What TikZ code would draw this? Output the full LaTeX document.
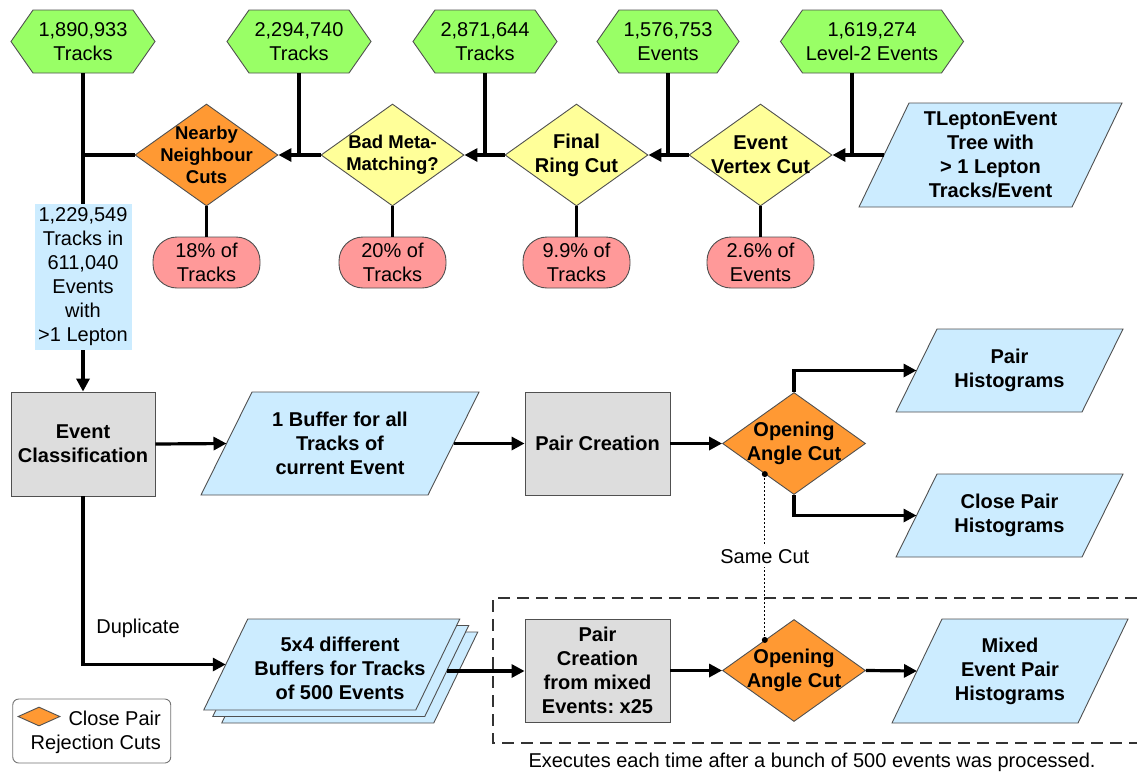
\documentclass[tikz,border=0pt]{standalone}
\usepackage{fontspec}
\setmainfont{Liberation Sans}
\usetikzlibrary{arrows.meta,shapes.geometric,calc}
\definecolor{hexgreen}{HTML}{99FF66}
\definecolor{dyellow}{HTML}{FFFF99}
\definecolor{dorange}{HTML}{FF9933}
\definecolor{pillred}{HTML}{FF9999}
\definecolor{lblue}{HTML}{CCECFF}
\definecolor{boxgray}{HTML}{DDDDDD}
\definecolor{edgecol}{HTML}{505050}
\frenchspacing

% hexagon: name, cx, cy, half width, text
\newcommand\hexa[5]{%
  \filldraw[hexst] (#2-#4,#3) -- (#2-#4+22,#3-31.5) -- (#2+#4-22,#3-31.5) -- (#2+#4,#3)
     -- (#2+#4-22,#3+31.5) -- (#2-#4+22,#3+31.5) -- cycle;
  \node[rtxt, minimum width=2*#4, minimum height=63] (#1) at (#2,#3) {#5};
}
% parallelogram: name, cx, cy, half edge, half height, half slant, text
\newcommand\para[7]{%
  \filldraw[parast] (#2-#4-#6,#3+#5) -- (#2-#4+#6,#3-#5) -- (#2+#4+#6,#3-#5) -- (#2+#4-#6,#3+#5) -- cycle;
  \coordinate (#1w) at (#2-#4,#3);
  \coordinate (#1e) at (#2+#4,#3);
  \node[btxt] (#1) at (#2,#3) {#7};
}

\begin{document}
\frenchspacing
\begin{tikzpicture}[x=1pt,y=-1pt,
  ln/.style={line width=3.2pt, black},
  arr/.style={ln, -{Triangle[length=13pt,width=13pt]}},
  hexst/.style={fill=hexgreen, draw=edgecol, line width=0.9pt},
  parast/.style={fill=lblue, draw=edgecol, line width=0.9pt},
  rtxt/.style={font=\fontsize{20}{24}\selectfont, align=center, inner sep=0pt},
  btxt/.style={font=\bfseries\fontsize{20}{24}\selectfont, align=center, inner sep=0pt},
  stxt/.style={font=\bfseries\fontsize{18.5}{22}\selectfont, align=center, inner sep=0pt},
  diam/.style={diamond, draw=edgecol, line width=0.9pt, minimum width=143pt, minimum height=102pt, inner sep=0pt},
  procbox/.style={rectangle, draw=edgecol, line width=0.9pt, fill=boxgray, minimum width=145pt, minimum height=103pt, inner sep=0pt, align=center, font=\bfseries\fontsize{20}{24}\selectfont},
  pill/.style={rectangle, rounded corners=24pt, draw=edgecol, line width=0.9pt, fill=pillred, minimum width=107pt, minimum height=51pt, inner sep=0pt, align=center, font=\fontsize{20}{24}\selectfont},
  dashbox/.style={line width=1.3pt, black!80, dash pattern=on 12pt off 7pt},
  dotline/.style={line width=1.2pt, black, dash pattern=on 2pt off 2pt},
]
\useasboundingbox (0,0) rectangle (1137,774);

% dashed region
\draw[dashbox] (1137,598) -- (493,598) -- (493,743) -- (1137,743);

% top hexagons
\hexa{h1}{83}{41.5}{72}{1,890,933\\Tracks}
\hexa{h2}{299}{41.5}{72}{2,294,740\\Tracks}
\hexa{h3}{485}{41.5}{72}{2,871,644\\Tracks}
\hexa{h4}{668}{41.5}{71}{1,576,753\\Events}
\hexa{h5}{872}{41.5}{91.5}{1,619,274\\Level-2 Events}

% cut diamonds
\node[diam, fill=dorange] (d1) at (206.5,155) {};
\node[stxt] (d1t) at (d1) {Nearby\\Neighbour\\Cuts};
\node[diam, fill=dyellow] (d2) at (392.5,155) {};
\node[stxt] (d2t) at (d2) {Bad Meta-\\Matching?};
\node[diam, fill=dyellow] (d3) at (576.5,155) {};
\node[btxt] (d3t) at (d3) {Final\\Ring Cut};
\node[diam, fill=dyellow] (d4) at (760.5,155) {};
\node[btxt] (d4t) at (d4) {Event\\Vertex Cut};

% rejection pills
\node[pill] (p1) at (206.5,262.5) {18\% of\\Tracks};
\node[pill] (p2) at (392.5,262.5) {20\% of\\Tracks};
\node[pill] (p3) at (576.5,262.5) {9.9\% of\\Tracks};
\node[pill] (p4) at (760.5,262.5) {2.6\% of\\Events};

% input tree
\para{tl}{990.5}{155}{106.5}{52}{25}{TLeptonEvent\\Tree with\\> 1 Lepton\\Tracks/Event}

% label box
\node[rtxt, fill=lblue, minimum width=97pt, minimum height=146pt] (lab) at (83,277)
  {1,229,549\\Tracks in\\611,040\\Events\\with\\>1 Lepton};

% middle row
\node[procbox, minimum width=144pt, minimum height=104pt] (ec) at (83,444) {Event\\Classification};
\para{bf}{340}{443.5}{113.5}{51.5}{25.5}{1 Buffer for all\\Tracks of\\current Event}
\node[procbox] (pc) at (597.5,443.5) {Pair Creation};
\node[diam, fill=dorange] (oa1) at (794,443.5) {};
\node[btxt] (oa1t) at (oa1) {Opening\\Angle Cut};
\para{ph}{1009.5}{370.5}{93}{41.5}{20.5}{Pair\\Histograms}
\para{cph}{1009.5}{515.5}{93}{41.5}{20.5}{Close Pair\\Histograms}

% bottom row
\para{stc}{349.75}{677.5}{106}{45.5}{22}{}
\para{stb}{340.75}{671}{106}{45.5}{22}{}
\para{sta}{331.75}{664.5}{106}{45.5}{22}{}
\node[btxt] (sttxt) at (340,668) {5x4 different\\Buffers for Tracks\\of 500 Events};
\node[procbox] (pcm) at (597.5,670.5) {Pair\\Creation\\from mixed\\Events: x25};
\node[diam, fill=dorange] (oa2) at (794,670.5) {};
\node[btxt] (oa2t) at (oa2) {Opening\\Angle Cut};
\para{mp}{1010}{671}{93}{52}{25}{Mixed\\Event Pair\\Histograms}

% connectors, top
\draw[ln] (h1.south) -- (lab.north);
\draw[ln] (d1.west) -- (d1.west -| h1.south);
\draw[arr] (lab.south) -- (ec.north);
\draw[arr] (d2.west) -- (d1.east);
\draw[ln] (h2.south) -- (h2.south |- d1.east);
\draw[arr] (d3.west) -- (d2.east);
\draw[ln] (h3.south) -- (h3.south |- d2.east);
\draw[arr] (d4.west) -- (d3.east);
\draw[ln] (h4.south) -- (h4.south |- d3.east);
\draw[arr] (tlw) -- (d4.east);
\coordinate (h5l) at ([xshift=-20pt]h5.south);
\draw[ln] (h5l) -- (h5l |- d4.east);
\draw[ln] (d1.south) -- (p1.north);
\draw[ln] (d2.south) -- (p2.north);
\draw[ln] (d3.south) -- (p3.north);
\draw[ln] (d4.south) -- (p4.north);

% connectors, middle
\draw[arr] (ec.east) -- (bfw);
\draw[arr] (bfe) -- (pc.west);
\draw[arr] (pc.east) -- (oa1.west);
\draw[arr] (oa1.north) |- (phw);
\draw[arr] (oa1.south) |- (cphw);

% connectors, bottom
\draw[arr] (ec.south) |- (staw);
\node[rtxt] (dup) at (138,628) {Duplicate};
\draw[arr] (stbe) -- (stbe -| pcm.west);
\draw[arr] (pcm.east) -- (oa2.west);
\draw[arr] (oa2.east) -- (mpw);

% same cut link
\coordinate (sc1) at ($(oa1.west)!0.594!(oa1.south)$);
\coordinate (sc2) at ($(oa2.west)!0.594!(oa2.north)$);
\draw[dotline] (sc1) -- (sc2);
\fill (sc1) circle (3pt);
\fill (sc2) circle (3pt);
\node[rtxt, fill=white, inner sep=3pt] (same) at ($(sc1)!0.5!(sc2)+(0,-0.5)$) {Same Cut};

\node[rtxt] (exec) at (812,762) {Executes each time after a bunch of 500 events was processed.};

% legend
\node[draw=edgecol!80, line width=0.9pt, rounded corners=6pt, minimum width=158pt, minimum height=64pt, fill=white, inner sep=0pt] (leg) at (91.75,731) {};
\node[diam, fill=dorange, minimum width=42pt, minimum height=19pt] (legd) at (39,716.5) {};
\node[rtxt, align=right, anchor=east] (legt) at (161,732) {Close Pair\\Rejection Cuts};
\end{tikzpicture}
\end{document}
